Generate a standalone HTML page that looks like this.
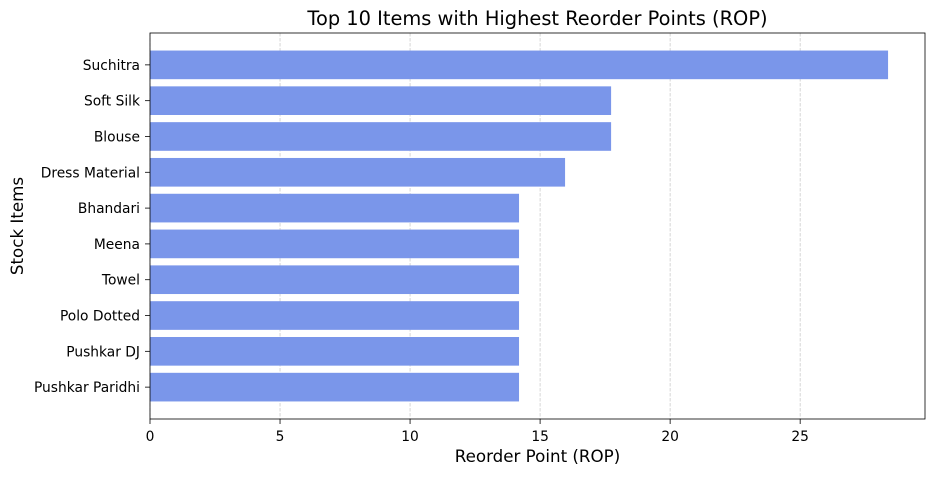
<!DOCTYPE html>
<html><head><meta charset="utf-8"><style>
body{margin:0;background:#fff;}
svg text{font-family:"DejaVu Sans","Liberation Sans",sans-serif;}
</style></head><body>
<svg id="chart" width="935" height="475"></svg>
<script>
const categories=["Suchitra","Soft Silk","Blouse ","Dress Material","Bhandari","Meena","Towel","Polo Dotted","Pushkar DJ","Pushkar Paridhi"];
const ropValues=[28.38,17.73,17.73,15.96,14.19,14.19,14.19,14.19,14.19,14.19];
const xTicks=[0,5,10,15,20,25];
const NS="http://www.w3.org/2000/svg";
const svg=document.getElementById('chart');
const L=150,R=925,T=33,B=419;
const xmax=29.8;
const x=v=>L+v*(R-L)/xmax;
const n=categories.length;
const unit=(B-T)/(n-1+0.8+0.98);
const y=i=>T+unit*(0.49+0.4+i);
function mk(tag,attrs){const e=document.createElementNS(NS,tag);for(const k in attrs)e.setAttribute(k,attrs[k]);svg.appendChild(e);return e;}
xTicks.forEach(t=>{
 const g=mk('line',{x1:x(t),x2:x(t),y1:T,y2:B,stroke:'#ccc','stroke-width':0.8,'stroke-dasharray':'3.5,1.5'});
 
 
});
categories.forEach((c,i)=>{
 const b=mk('rect',{x:x(0),y:y(i)-unit*0.4,width:x(ropValues[i])-x(0),height:unit*0.8,fill:'#7a96ea'});
 
 
 const tk=mk('line',{x1:L-5,x2:L,y1:y(i),y2:y(i),stroke:'#000','stroke-width':0.8});
 
 
 const t=mk('text',{x:L-10,y:y(i)+5,'text-anchor':'end','font-size':13.8,fill:'#000'});
 t.textContent=c;
 
 
});
xTicks.forEach(t=>{
 const tk=mk('line',{x1:x(t),x2:x(t),y1:B,y2:B+5,stroke:'#000','stroke-width':0.8});
 
 
 const l=mk('text',{x:x(t),y:B+22,'text-anchor':'middle','font-size':13.8});
 l.textContent=t;
 
 
});
const frame=mk('rect',{x:L,y:T,width:R-L,height:B-T,fill:'none',stroke:'#000','stroke-width':0.8});


const ti=mk('text',{x:(L+R)/2,y:25,'text-anchor':'middle','font-size':19.4});
ti.textContent="Top 10 Items with Highest Reorder Points (ROP)";


const xl=mk('text',{x:(L+R)/2,y:462,'text-anchor':'middle','font-size':16.7});
xl.textContent="Reorder Point (ROP)";


const yl=mk('text',{x:23,y:(T+B)/2,'text-anchor':'middle','font-size':16.7,transform:'rotate(-90 23 '+((T+B)/2)+')'});
yl.textContent="Stock Items";


</script>
</body></html>
